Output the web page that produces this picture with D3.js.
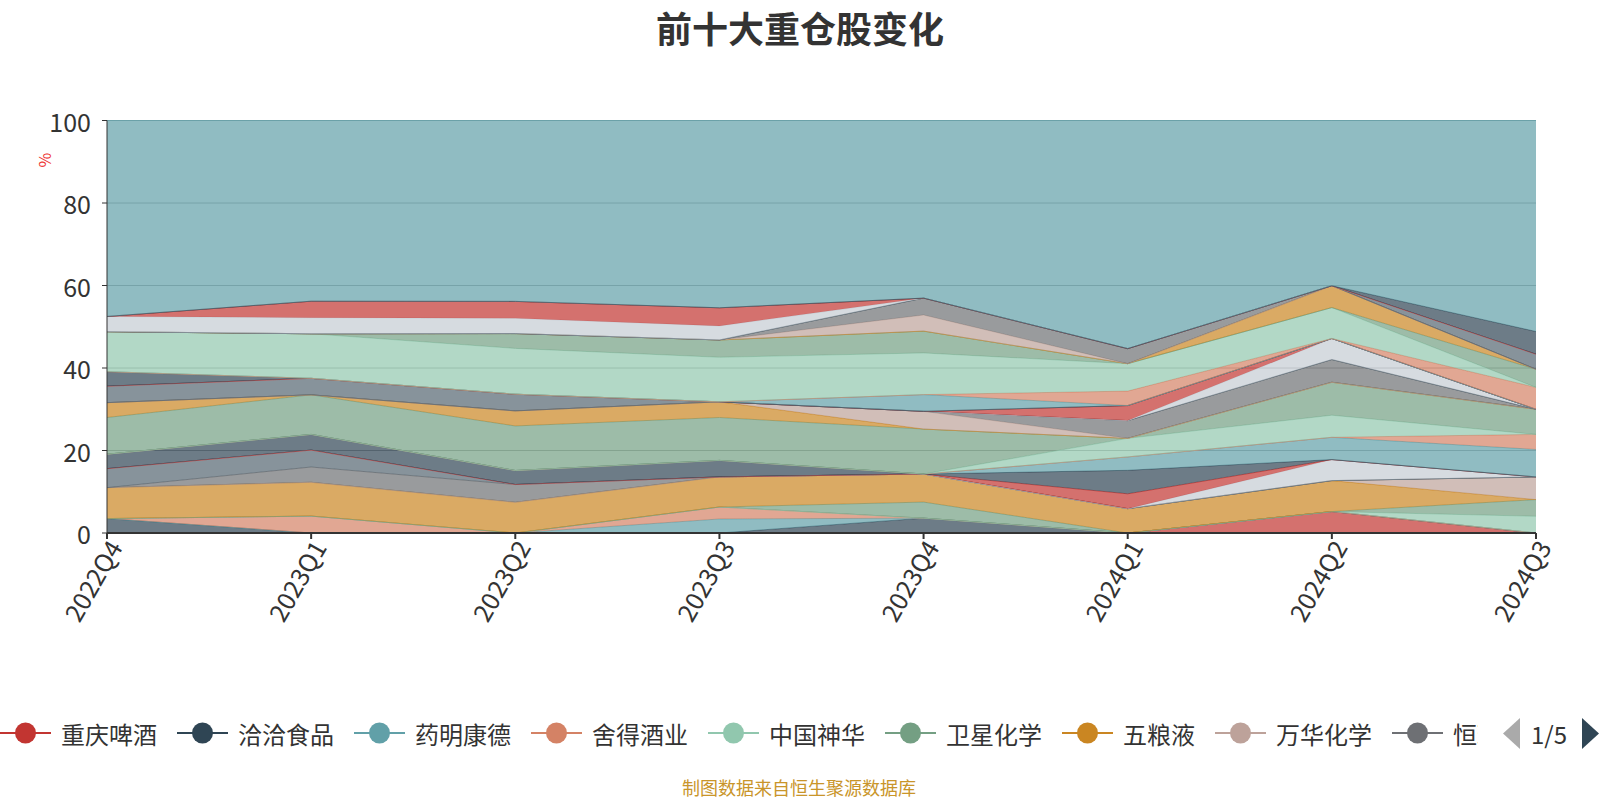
<!DOCTYPE html>
<html>
<head>
<meta charset="utf-8">
<script src="https://cdn.jsdelivr.net/npm/d3@7"></script>
<style>
  html, body { margin: 0; padding: 0; background: #fff; }
  svg text { font-family: "Noto Sans CJK SC", "Noto Sans", sans-serif; }
</style>
</head>
<body>
<svg id="chart" width="1600" height="800"></svg>
<script>
// ---------------- data ----------------
const quarters = ['2022Q4','2023Q1','2023Q2','2023Q3','2023Q4','2024Q1','2024Q2','2024Q3'];

const stockNames = [
  '重庆啤酒','洽洽食品','药明康德','舍得酒业','中国神华','卫星化学','五粮液','万华化学','恒瑞医药',
  '贵州茅台','伊利股份','美的集团','招商银行','宁德时代','泸州老窖','长江电力','紫金矿业','山西汾酒',
  '海尔智家','格力电器','中国平安','迈瑞医疗','爱尔眼科','海天味业','隆基绿能','洋河股份','中国海油',
  '宝丰能源','古井贡酒','华鲁恒升','荣盛石化','陕西煤业','东方财富','青岛啤酒','中国移动','其他'
];

// percentage of each holding per quarter (same order as quarters)
const stockValues = [
  [0,0,0,0,0,0,5.2,0],
  [3.5,0,0,0,3.6,0,0,0],
  [0,0,0,3.4,0,0,0,0],
  [0,4.1,0,2.9,0,0,0,0],
  [0,0,0,0,0,0,0,4.05],
  [0,0,0,0,3.9,0,0,4.05],
  [7.5,8.2,7.45,7.3,6.8,5.9,7.5,0],
  [0,0,0,0,0,0,0,5.5],
  [0,3.7,4.3,0,0,0,0,0],
  [4.6,4.1,0,0,0,0,0,0],
  [0,0,0,0,0,0,5.1,0],
  [0,0,0,0,0,3.6,0,0],
  [3.5,3.8,3.4,4.0,0,5.7,0,0],
  [0,0,0,0,0,3.25,5.4,6.65],
  [0,0,0,0,0,0,0,3.65],
  [0,0,0,0,0,4.5,5.35,0],
  [8.9,9.6,10.8,10.4,10.9,0,8.0,6.1],
  [3.6,0,3.65,3.8,0,0,0,0],
  [0,0,0,0,4.3,0,0,0],
  [0,0,0,0,0,4.3,5.5,0],
  [4.0,4.0,4.05,0,0,0,0,0],
  [0,0,0,0,0,0,5.1,0],
  [0,0,0,0,0,3.65,0,0],
  [3.5,0,0,0,0,0,0,0],
  [0,0,0,0,4.05,0,0,0],
  [0,0,0,0,0,3.5,0,5.3],
  [9.7,10.8,11.1,10.8,10.1,6.65,7.5,0],
  [0,0,3.6,4.2,5.3,0,0,4.4],
  [0,0,0,0,0,0,5.3,0],
  [0,0,0,0,3.9,0,0,0],
  [0,0,0,0,4.1,3.65,0,0],
  [0,0,0,0,0,0,0,3.65],
  [3.7,3.9,3.7,3.4,0,0,0,0],
  [0,4.0,4.1,4.4,0,0,0,0],
  [0,0,0,0,0,0,0,5.5],
  [47.5,43.8,43.85,45.4,43.05,55.3,40.05,51.15]
];

const yTicks = [0,20,40,60,80,100];
const palette = ['#c23531','#2f4554','#61a0a8','#d48265','#91c7ae','#749f83','#ca8622','#bda29a','#6e7074','#546570','#c4ccd3'];

// ---------------- chart ----------------
const svg = d3.select('#chart');
const plotL = 107, plotR = 1536, plotT = 120.5, plotB = 533;

const x = d3.scalePoint().domain(quarters).range([plotL, plotR]);
const y = d3.scaleLinear().domain([0, 100]).range([plotB, plotT]);
const color = i => palette[i % palette.length];

// title
svg.append('text')
  .attr('x', 800).attr('y', 27)
  .attr('text-anchor', 'middle').attr('dominant-baseline', 'central')
  .attr('font-size', 36).attr('font-weight', 'bold').attr('fill', '#333')
  .text('前十大重仓股变化');

// gridlines
svg.append('g').selectAll('line').data(yTicks.filter(d => d > 0)).join('line')
  .attr('x1', plotL).attr('x2', plotR)
  .attr('y1', d => y(d)).attr('y2', d => y(d))
  .attr('stroke', '#aaa').attr('stroke-width', 1);

// stacked data
const rows = quarters.map((q, qi) => {
  const r = { q };
  stockNames.forEach((n, si) => { r[si] = stockValues[si][qi]; });
  return r;
});
const keys = stockNames.map((n, i) => i);
const stacked = d3.stack().keys(keys)(rows);

const area = d3.area()
  .x(d => x(d.data.q)).y0(d => y(d[0])).y1(d => y(d[1]));
const line = d3.line()
  .x(d => x(d.data.q)).y(d => y(d[1]));

const gSeries = svg.append('g');
stacked.forEach((s, i) => {
  const g = gSeries.append('g');
  g.append('path').attr('d', area(s))
    .attr('fill', color(i)).attr('fill-opacity', 0.7).attr('stroke', 'none');
  g.append('path').attr('d', line(s))
    .attr('fill', 'none').attr('stroke', color(i)).attr('stroke-width', 1).attr('stroke-opacity', 0.8);
});

// y axis
const gy = svg.append('g');
gy.append('line').attr('x1', plotL).attr('x2', plotL).attr('y1', plotB).attr('y2', plotT)
  .attr('stroke', '#333').attr('stroke-width', 1);
gy.selectAll('line.tick').data(yTicks).join('line').attr('class', 'tick')
  .attr('x1', plotL - 5).attr('x2', plotL).attr('y1', d => y(d)).attr('y2', d => y(d))
  .attr('stroke', '#333');
gy.selectAll('text').data(yTicks).join('text')
  .attr('x', plotL - 16).attr('y', d => y(d))
  .attr('text-anchor', 'end').attr('dominant-baseline', 'central')
  .attr('font-size', 25).attr('fill', '#333')
  .text(d => d);

// y axis name
svg.append('text')
  .attr('transform', 'translate(44,160) rotate(-90)')
  .attr('text-anchor', 'middle').attr('dominant-baseline', 'central')
  .attr('font-size', 16).attr('fill', '#e33')
  .text('%');

// x axis
const gx = svg.append('g');
gx.append('line').attr('x1', plotL).attr('x2', plotR).attr('y1', plotB).attr('y2', plotB)
  .attr('stroke', '#333').attr('stroke-width', 2);
gx.selectAll('line.tick').data(quarters).join('line').attr('class', 'tick')
  .attr('x1', d => x(d)).attr('x2', d => x(d)).attr('y1', plotB).attr('y2', plotB + 6)
  .attr('stroke', '#333').attr('stroke-width', 2);
gx.selectAll('text').data(quarters).join('text')
  .attr('transform', d => `translate(${x(d) + 7},${plotB + 9}) rotate(-60)`)
  .attr('text-anchor', 'end').attr('dominant-baseline', 'central')
  .attr('font-size', 25).attr('fill', '#333')
  .text(d => d);

// legend
const legendY = 733;
const defs = svg.append('defs');
defs.append('clipPath').attr('id', 'legclip')
  .append('rect').attr('x', 0).attr('y', 700).attr('width', 1478).attr('height', 70);
const gl = svg.append('g').attr('clip-path', 'url(#legclip)');
let lx = 0;
for (let i = 0; i < 9; i++) {
  const it = gl.append('g').attr('transform', `translate(${lx},${legendY})`);
  it.append('line').attr('x1', 0).attr('x2', 51).attr('y1', 0).attr('y2', 0)
    .attr('stroke', color(i)).attr('stroke-width', 2);
  it.append('circle').attr('cx', 25.5).attr('cy', 0).attr('r', 10.5)
    .attr('fill', color(i));
  const t = it.append('text').attr('x', 61).attr('y', 0)
    .attr('dominant-baseline', 'central').attr('font-size', 24).attr('fill', '#333')
    .text(stockNames[i]);
  const tw = t.node().getComputedTextLength();
  lx += 61 + tw + 20;
}
// pager
svg.append('path').attr('d', 'M1520,718 L1503,733.5 L1520,749 Z').attr('fill', '#aaa');
svg.append('text').attr('x', 1531).attr('y', legendY)
  .attr('dominant-baseline', 'central').attr('font-size', 24).attr('fill', '#333').text('1/5');
svg.append('path').attr('d', 'M1582,718 L1599,733.5 L1582,749 Z').attr('fill', '#2f4554');

// footer
svg.append('text')
  .attr('x', 799).attr('y', 787)
  .attr('text-anchor', 'middle').attr('dominant-baseline', 'central')
  .attr('font-size', 18).attr('fill', '#c9952a')
  .text('制图数据来自恒生聚源数据库');
</script>
</body>
</html>
